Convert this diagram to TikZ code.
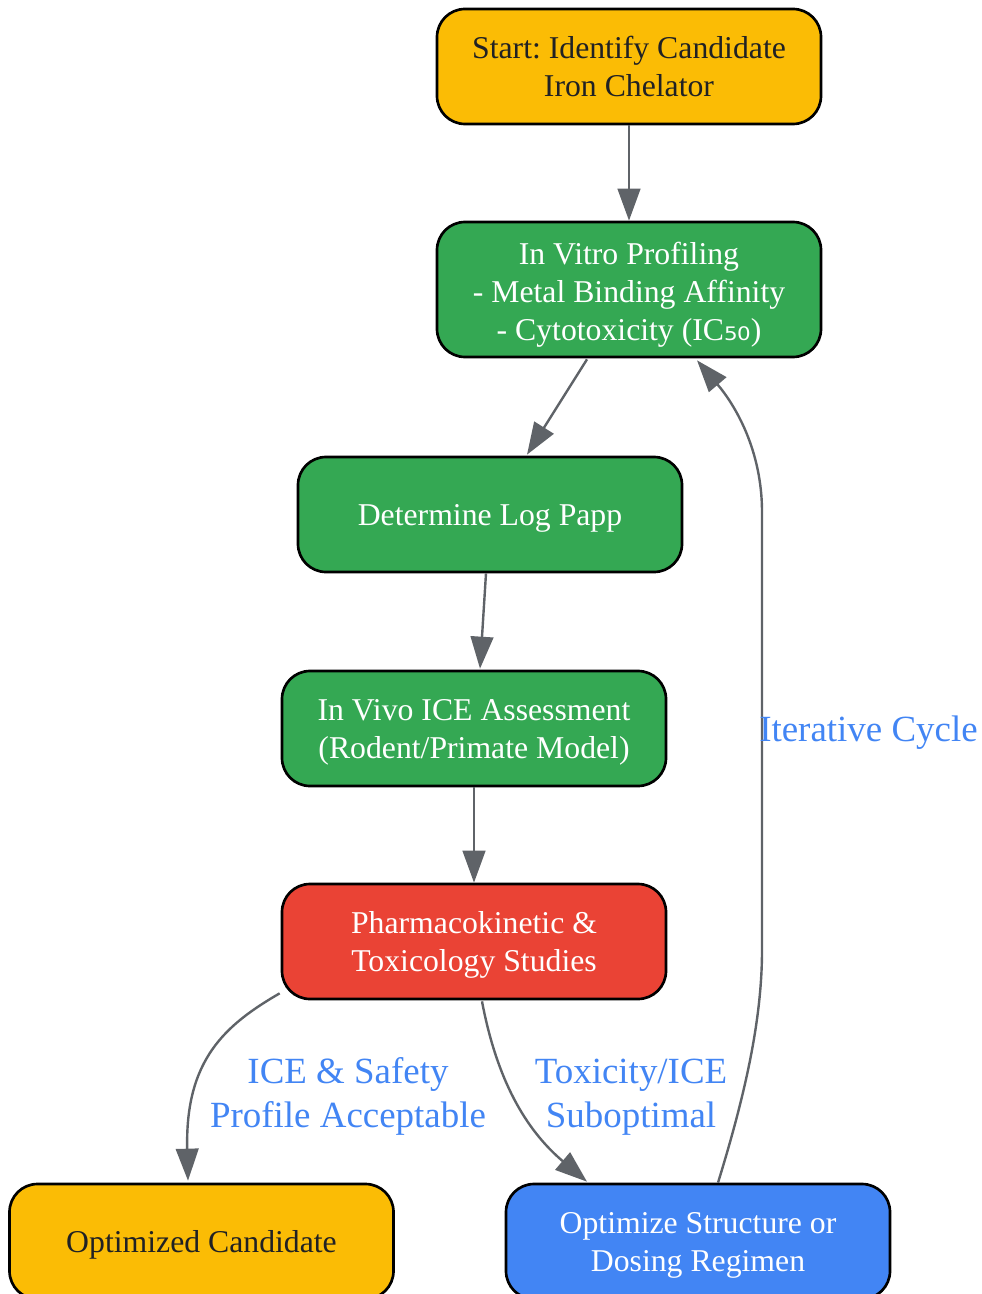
\documentclass[tikz,border=0pt]{standalone}
\usepackage{fontspec}
\setmainfont{Liberation Serif}
\newfontfamily\subfont{DejaVu Sans}
\usetikzlibrary{arrows.meta,calc}
\frenchspacing
\definecolor{cyellow}{HTML}{FBBC05}
\definecolor{cgreen}{HTML}{34A853}
\definecolor{cred}{HTML}{EA4335}
\definecolor{cblue}{HTML}{4285F4}
\definecolor{cgray}{HTML}{5F6368}
\definecolor{cdark}{HTML}{202124}
% [#1] = extra downward shift, #2 = number of lines, #3 = lines
\newcommand\boxtext[3][0pt]{\raisebox{\dimexpr 14.25pt*(#2-1)-8.25pt-#1\relax}[0pt][0pt]{\begin{tabular}[t]{@{}c@{}}#3\end{tabular}}}
\newcommand\lbltext[1]{\begin{tabular}[t]{@{}c@{}}#1\end{tabular}}
\tikzset{
  box/.style={draw=black, line width=2pt, rounded corners=21pt,
    minimum width=288pt, minimum height=86.25pt, inner sep=0pt,
    font=\fontsize{23.8}{28.5}\selectfont},
  ybox/.style={box, fill=cyellow, text=cdark},
  gbox/.style={box, fill=cgreen, text=white},
  rbox/.style={box, fill=cred, text=white},
  bbox/.style={box, fill=cblue, text=white},
  conn/.style={draw=cgray, line width=1.8pt, -{Triangle[length=24pt,width=17pt]}, color=cgray},
  lbl/.style={text=cblue, inner sep=0pt, anchor=base, font=\fontsize{27.7}{33}\selectfont}
}
\begin{document}
\begin{tikzpicture}[x=0.75pt,y=-0.75pt]
\useasboundingbox (0,0) rectangle (981,1294);
\clip (0,0) rectangle (981,1294);
\node[ybox] (start) at (629,66.5) {\boxtext{2}{Start: Identify Candidate\\Iron Chelator}};
\node[gbox, minimum height=101.25pt] (invitro) at (629,289.5) {\boxtext[1.5pt]{3}{In Vitro Profiling\\- Metal Binding Affinity\\- Cytotoxicity (IC{\subfont\fontsize{25}{28}\selectfont ₅₀})}};
\node[gbox] (logp) at (490,514.5) {\boxtext{1}{Determine Log Papp}};
\node[gbox] (invivo) at (474,728.5) {\boxtext{2}{In Vivo ICE Assessment\\(Rodent/Primate Model)}};
\node[rbox] (pk) at (474,941.5) {\boxtext{2}{Pharmacokinetic \&\\Toxicology Studies}};
\node[ybox] (optcand) at (201.5,1241.5) {\boxtext{1}{Optimized Candidate}};
\node[bbox] (optstr) at (698,1241.5) {\boxtext{2}{Optimize Structure or\\Dosing Regimen}};

\draw[conn] (start) -- (invitro);
\draw[conn] ($(invitro.south)+(-42,1)$) -- ($(logp.north)+(37,-1)$);
\draw[conn] ($(logp.south)+(-4,0)$) -- ($(invivo.north)+(6,-1)$);
\draw[conn] (invivo) -- (pk);
\draw[conn] ($(pk.south west)+(-1,-7)$) .. controls (225,1025) and (185,1060) .. ($(optcand.north)+(-13.5,-2)$);
\draw[conn] ($(pk.south)+(8,1)$) .. controls (495,1070) and (520,1125) .. ($(optstr.north)+(-111,-1)$);
\coordinate (c1) at (762,950);
\coordinate (c2) at (762,512);
\draw[conn] ($(optstr.north)+(20,0)$) .. controls (745,1095) and (762,1020) .. (c1) -- (c2)
   .. controls (762,450) and (735,405) .. ($(invitro.south)+(68,2)$);

\node[lbl] (l1) at (348,1083.2) {\lbltext{ICE \& Safety\\Profile Acceptable}};
\node[lbl] (l2) at (631,1083.2) {\lbltext{Toxicity/ICE\\Suboptimal}};
\node[lbl, anchor=base west] (l3) at (759,741.8) {Iterative Cycle};
\end{tikzpicture}
\end{document}
